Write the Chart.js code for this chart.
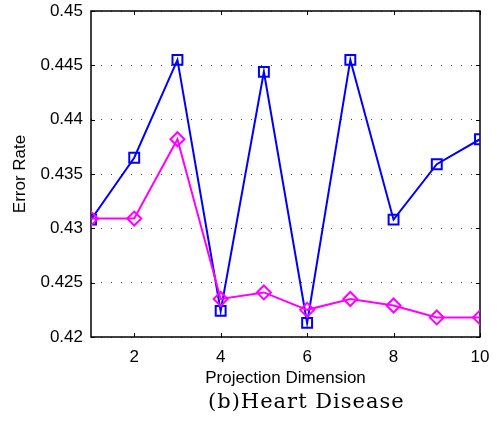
<!DOCTYPE html>
<html>
<head>
<meta charset="utf-8">
<script src="https://cdn.jsdelivr.net/npm/chart.js@4.4.0/dist/chart.umd.min.js"></script>
<style>
  body { margin: 0; background: #fff; }
  #wrap { position: relative; width: 499px; height: 428px; }
  #caption {
    position: absolute; left: 208px; top: 391px;
    font: 21px "DejaVu Serif", serif; line-height: 21px;
    letter-spacing: 1px; white-space: nowrap; color: #000;
  }
</style>
</head>
<body>
<div id="wrap">
  <canvas id="chart" width="499" height="428"></canvas>
  <div id="caption">(b)Heart Disease</div>
</div>
<script>
// projection dimension on the x axis
const dims = [1, 2, 3, 4, 5, 6, 7, 8, 9, 10]
// blue squares
const blueErr = [0.4308, 0.4365, 0.4455, 0.4224, 0.4444, 0.4213, 0.4455, 0.4308, 0.4359, 0.4382]
// magenta diamonds
const magentaErr = [0.4309, 0.4309, 0.4382, 0.4235, 0.4241, 0.4225, 0.4235, 0.4229, 0.4218, 0.4218]
const xTicks = [2, 4, 6, 8, 10]
const yTicks = [0.42, 0.425, 0.43, 0.435, 0.44, 0.445, 0.45]

const sans = 'Liberation Sans, Arial, sans-serif'

// box round the plot with small inward tick marks (matlab style)
const boxAndTicks = {
  id: 'boxAndTicks',
  beforeDatasetsDraw(chart) {
    const { ctx, chartArea: a, scales: { x, y } } = chart
    ctx.save()
    ctx.strokeStyle = '#000'
    ctx.lineWidth = 1.5
    ctx.strokeRect(a.left, a.top, a.right - a.left, a.bottom - a.top)
    ctx.lineWidth = 1
    ctx.beginPath()
    xTicks.forEach(v => {
      const px = Math.round(x.getPixelForValue(v)) + 0.5
      ctx.moveTo(px, a.bottom); ctx.lineTo(px, a.bottom - 4)
      ctx.moveTo(px, a.top); ctx.lineTo(px, a.top + 4)
    })
    yTicks.forEach(v => {
      const py = Math.round(y.getPixelForValue(v)) + 0.5
      ctx.moveTo(a.left, py); ctx.lineTo(a.left + 4, py)
      ctx.moveTo(a.right, py); ctx.lineTo(a.right - 4, py)
    })
    ctx.stroke()
    ctx.restore()
  }
}

const toPoints = vals => dims.map((d, i) => ({ x: d, y: vals[i] }))

new Chart(document.getElementById('chart'), {
  type: 'line',
  data: {
    datasets: [
      {
        label: 'magenta',
        data: toPoints(magentaErr),
        borderColor: '#ff00ff',
        borderWidth: 2,
        pointStyle: 'rectRot',
        pointRadius: 7,
        pointBorderWidth: 2,
        pointBorderColor: '#ff00ff',
        pointBackgroundColor: 'rgba(0,0,0,0)'
      },
      {
        label: 'blue',
        data: toPoints(blueErr),
        borderColor: '#0000ff',
        borderWidth: 2,
        pointStyle: 'rect',
        pointRadius: 7,
        pointBorderWidth: 2,
        pointBorderColor: '#0000ff',
        pointBackgroundColor: 'rgba(0,0,0,0)'
      }
    ]
  },
  options: {
    responsive: false,
    animation: false,
    layout: { padding: { top: 11, right: 19, bottom: 39, left: 0 } },
    plugins: {
      legend: { display: false },
      tooltip: { enabled: false }
    },
    scales: {
      x: {
        type: 'linear',
        min: 1,
        max: 10,
        afterBuildTicks: s => { s.ticks = xTicks.map(v => ({ value: v })) },
        afterFit: s => { s.height = 52; s.paddingLeft = 0; s.paddingRight = 0 },
        grid: { display: false },
        border: { display: false },
        ticks: { color: '#000', font: { family: sans, size: 17 }, padding: 2, maxRotation: 0, autoSkip: false },
        title: { display: true, text: 'Projection Dimension', color: '#000', font: { family: sans, size: 17 }, padding: { top: 0, bottom: 0 } }
      },
      y: {
        min: 0.42,
        max: 0.45,
        afterBuildTicks: s => { s.ticks = yTicks.map(v => ({ value: v })) },
        afterFit: s => { s.width = 91; s.paddingTop = 0; s.paddingBottom = 0 },
        grid: { color: '#444', lineWidth: 1, drawTicks: false },
        border: { display: false, dash: [1, 9] },
        ticks: { color: '#000', font: { family: sans, size: 17 }, padding: 8, callback: v => String(+v.toFixed(3)) },
        title: { display: true, text: 'Error Rate', color: '#000', font: { family: sans, size: 17 }, padding: { top: 10, bottom: 0 } }
      }
    }
  },
  plugins: [boxAndTicks]
})
</script>
</body>
</html>
